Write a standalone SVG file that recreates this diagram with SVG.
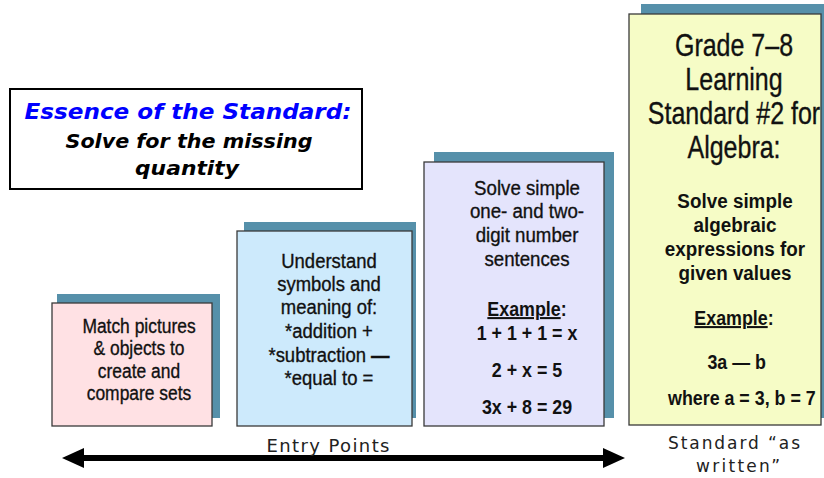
<svg xmlns="http://www.w3.org/2000/svg" width="824" height="478" viewBox="0 0 824 478">
<defs>
<style>
.shadow{fill:#5690aa;}
.box{stroke:#3a3a3a;stroke-width:1.3;}
.t{font-family:"Liberation Sans",Arial,sans-serif;font-size:21px;fill:#111;text-anchor:middle;stroke:#111;stroke-width:0.35;}
.b{font-weight:bold;font-size:20.5px;stroke:none;}
.h{font-size:30.5px;}
.u{text-decoration:underline;}
.v{font-family:"DejaVu Sans",Verdana,sans-serif;fill:#222;text-anchor:middle;}
</style>
</defs>
<rect width="824" height="478" fill="#ffffff"/>

<g id="essence">
<rect x="10" y="89" width="352" height="100" fill="#ffffff" stroke="#000" stroke-width="2"/>
<text x="188" y="119" font-family="'DejaVu Sans',Verdana,sans-serif" font-weight="bold" font-style="italic" font-size="21" fill="#0000ff" text-anchor="middle" textLength="327" lengthAdjust="spacingAndGlyphs">Essence of the Standard:</text>
<text x="189" y="148" font-family="'DejaVu Sans',Verdana,sans-serif" font-weight="bold" font-style="italic" font-size="19" fill="#000" text-anchor="middle" textLength="247" lengthAdjust="spacingAndGlyphs">Solve for the missing</text>
<text x="187" y="175" font-family="'DejaVu Sans',Verdana,sans-serif" font-weight="bold" font-style="italic" font-size="19" fill="#000" text-anchor="middle" textLength="104" lengthAdjust="spacingAndGlyphs">quantity</text>
</g>

<g id="box1">
<rect class="shadow" x="57" y="294" width="163" height="124"/>
<rect class="box" x="52" y="303" width="160" height="123" fill="#ffe1e4"/>
<g transform="translate(139,0) scale(0.83,1)">
<text class="t" x="0" y="333">Match pictures</text>
<text class="t" x="0" y="355">&amp; objects to</text>
<text class="t" x="0" y="378">create and</text>
<text class="t" x="0" y="400">compare sets</text>
</g>
</g>

<g id="box2">
<rect class="shadow" x="244" y="222" width="172" height="196"/>
<rect class="box" x="237" y="231" width="175" height="195" fill="#cdeafc"/>
<g transform="translate(329,0) scale(0.88,1)">
<text class="t" x="0" y="268">Understand</text>
<text class="t" x="0" y="291">symbols and</text>
<text class="t" x="0" y="314">meaning of:</text>
<text class="t" x="0" y="338">*addition +</text>
<text class="t" x="0" y="362">*subtraction <tspan font-weight="bold">—</tspan></text>
<text class="t" x="0" y="385">*equal to =</text>
</g>
</g>

<g id="box3">
<rect class="shadow" x="434" y="152" width="180" height="266"/>
<rect class="box" x="424" y="162" width="180" height="264" fill="#e4e4fc"/>
<g transform="translate(527,0) scale(0.89,1)">
<text class="t" x="0" y="195">Solve simple</text>
<text class="t" x="0" y="218">one- and two-</text>
<text class="t" x="0" y="242">digit number</text>
<text class="t" x="0" y="266">sentences</text>
</g>
<g transform="translate(527,0) scale(0.87,1)">
<text class="t b" x="0" y="316"><tspan class="u">Example</tspan>:</text>
<text class="t b" x="0" y="340">1 + 1 + 1 = x</text>
<text class="t b" x="0" y="377">2 + x = 5</text>
<text class="t b" x="0" y="414">3x + 8 = 29</text>
</g>
</g>

<g id="box4">
<rect class="shadow" x="641" y="4" width="183" height="414"/>
<rect class="box" x="629" y="14" width="192" height="411" fill="#f6fcc6"/>
<g transform="translate(734,0) scale(0.82,1)">
<text class="t h" x="0" y="56">Grade 7–8</text>
<text class="t h" x="0" y="90">Learning</text>
<text class="t h" x="0" y="124">Standard #2 for</text>
<text class="t h" x="0" y="158">Algebra:</text>
</g>
<g transform="translate(735,0) scale(0.92,1)">
<text class="t b" x="0" y="208">Solve simple</text>
<text class="t b" x="0" y="232">algebraic</text>
<text class="t b" x="0" y="256">expressions for</text>
<text class="t b" x="0" y="280">given values</text>
</g>
<g transform="translate(734,0) scale(0.87,1)">
<text class="t b" x="0" y="325"><tspan class="u">Example</tspan>:</text>
<text class="t b" x="3" y="369">3a — b</text>
<text class="t b" x="9" y="405">where a = 3, b = 7</text>
</g>
</g>

<g id="connectors">
<line x1="80" y1="458" x2="607" y2="458" stroke="#000" stroke-width="6"/>
<polygon points="62,458 84,448 84,468" fill="#000"/>
<polygon points="625,458 603,448 603,468" fill="#000"/>
</g>

<g id="labels">
<text class="v" x="328" y="452" font-size="18" textLength="123" lengthAdjust="spacing">Entry Points</text>
<text class="v" x="734" y="449" font-size="17" textLength="132" lengthAdjust="spacing">Standard “as</text>
<text class="v" x="738" y="472" font-size="17" textLength="84" lengthAdjust="spacing">written”</text>
</g>
</svg>
